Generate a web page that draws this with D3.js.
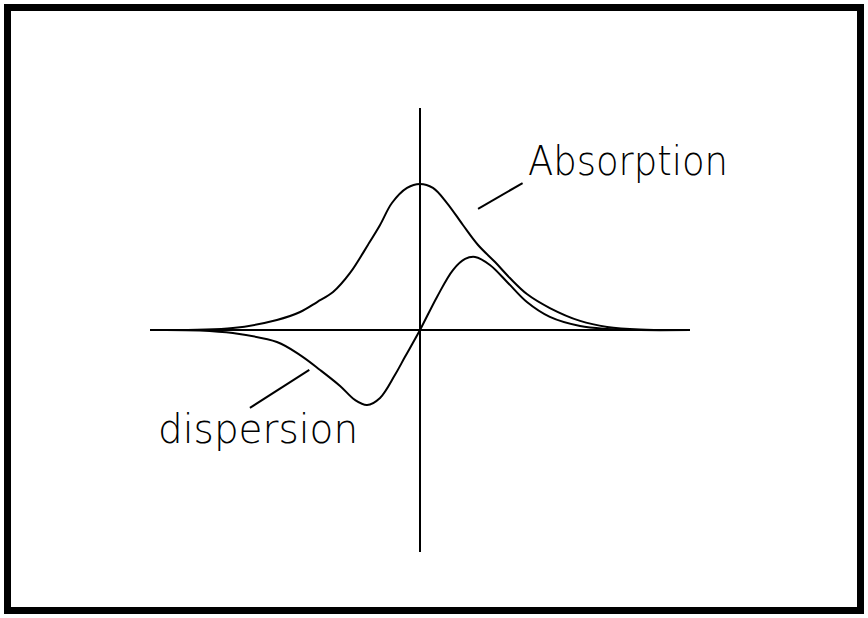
<!DOCTYPE html>
<html>
<head>
<meta charset="utf-8">
<script src="https://cdn.jsdelivr.net/npm/d3@7/dist/d3.min.js"></script>
<style>
  html, body { margin: 0; padding: 0; background: #fff; }
  svg { display: block; }
  .lbl { font-family: "DejaVu Sans", sans-serif; font-weight: 200; fill: #000; }
</style>
</head>
<body>
<script>
// Frequency offset (arbitrary units) and line-shape values
const absX = [-10, -6.93, -5.3, -4.44, -3.81, -3.22, -2.59, -1.93, -1.48, -1.04, -0.48, 0, 0.48, 1.0, 1.59, 2.15, 2.78, 3.33, 3.96, 4.81, 5.93, 6.93, 8.15, 10];
const absY = [0, 0.009, 0.045, 0.081, 0.126, 0.171, 0.257, 0.383, 0.473, 0.572, 0.640, 0.658, 0.640, 0.572, 0.473, 0.383, 0.306, 0.234, 0.162, 0.099, 0.041, 0.014, 0.002, 0];

const dispX = [-10, -8.15, -6.93, -5.3, -4.44, -3.7, -2.96, -2.41, -1.96, -1.48, -0.93, -0.56, 0, 0.63, 1.22, 1.67, 2.04, 2.59, 3.26, 3.96, 4.81, 5.93, 6.93, 8.15, 10];
const dispY = [0, -0.002, -0.014, -0.054, -0.113, -0.180, -0.252, -0.315, -0.338, -0.306, -0.203, -0.122, 0, 0.149, 0.270, 0.320, 0.329, 0.293, 0.212, 0.126, 0.059, 0.018, 0.005, 0, 0];

const xRange = [-10, 10];
const yRange = [-1, 1];

// Curve labels and the points their leader lines join (data units)
const labels = ["Absorption", "dispersion"];
const labelPos = [[4.0, 0.697], [-9.7, -0.509]];
const leaders = [[[2.15, 0.546], [3.8, 0.662]], [[-6.3, -0.351], [-4.1, -0.18]]];

const W = 868, H = 618;
const svg = d3.select("body").append("svg").attr("width", W).attr("height", H);

// Outer frame
svg.append("rect")
  .attr("x", 7.5).attr("y", 7.5)
  .attr("width", W - 15).attr("height", H - 15)
  .attr("fill", "none").attr("stroke", "#000").attr("stroke-width", 7);

const x = d3.scaleLinear().domain(xRange).range([150, 690]);
const y = d3.scaleLinear().domain(yRange).range([552, 108]);

// Axes through the origin
svg.append("line")
  .attr("x1", x(xRange[0])).attr("x2", x(xRange[1]))
  .attr("y1", y(0)).attr("y2", y(0))
  .attr("stroke", "#000").attr("stroke-width", 2);
svg.append("line")
  .attr("x1", x(0)).attr("x2", x(0))
  .attr("y1", y(yRange[1])).attr("y2", y(yRange[0]))
  .attr("stroke", "#000").attr("stroke-width", 2);

const line = d3.line()
  .x(d => x(d[0])).y(d => y(d[1]))
  .curve(d3.curveCatmullRom.alpha(0.5));

svg.append("path")
  .datum(d3.zip(absX, absY))
  .attr("d", line)
  .attr("fill", "none").attr("stroke", "#000").attr("stroke-width", 2);

svg.append("path")
  .datum(d3.zip(dispX, dispY))
  .attr("d", line)
  .attr("fill", "none").attr("stroke", "#000").attr("stroke-width", 2);

// Leader lines
leaders.forEach(l => {
  svg.append("line")
    .attr("x1", x(l[0][0])).attr("y1", y(l[0][1]))
    .attr("x2", x(l[1][0])).attr("y2", y(l[1][1]))
    .attr("stroke", "#000").attr("stroke-width", 2);
});

// Labels
labels.forEach((t, i) => {
  svg.append("text")
    .attr("class", "lbl")
    .attr("x", x(labelPos[i][0])).attr("y", y(labelPos[i][1]))
    .attr("font-size", 40)
    .attr("textLength", 200)
    .attr("lengthAdjust", "spacingAndGlyphs")
    .text(t);
});
</script>
</body>
</html>
